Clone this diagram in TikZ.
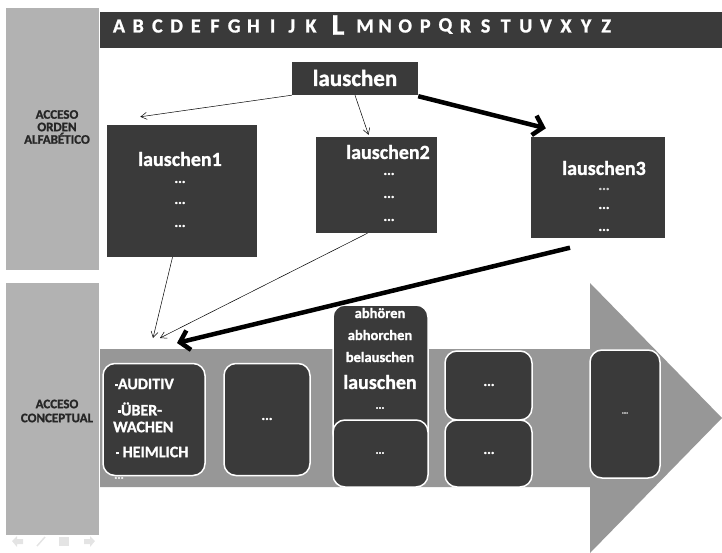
\documentclass[tikz,border=0pt]{standalone}
\usepackage{fontspec}
\setmainfont{Carlito}[BoldFont={Carlito Bold},BoldFeatures={FakeBold=1.2}]
\usetikzlibrary{arrows.meta}
\definecolor{dark}{HTML}{3A3A3A}
\definecolor{side}{HTML}{B2B2B2}
\definecolor{band}{HTML}{979797}
\definecolor{lbl}{HTML}{262626}
\definecolor{nav}{HTML}{E4E4E4}
\newcommand{\sq}{\rule[0.35ex]{2.8pt}{2.8pt}}
\begin{document}
\begin{tikzpicture}[x=1pt,y=-1pt,font=\bfseries,
  darkbox/.style={fill=dark,draw=none,inner sep=0pt},
  rbox/.style={fill=dark,draw=white,line width=1.5pt,rounded corners=12pt,inner sep=0pt},
  wtxt/.style={text=white,inner sep=0pt,font=\fontsize{#1}{#1}\selectfont\bfseries},
  wtxt/.default=20,
  dots/.style={text=white,inner sep=0pt,font=\fontsize{14}{14}\selectfont\bfseries},
  sidelbl/.style={text=lbl,align=center,inner sep=0pt,font=\fontsize{13}{12.5}\selectfont\bfseries},
  thinarrow/.style={-{Straight Barb[length=6pt,width=7pt]},line width=0.5pt},
  bigarrow/.style={-{Straight Barb[length=9pt,width=20pt]},line width=4.5pt}
]
\useasboundingbox (0,0) rectangle (722,553);
% side columns
\fill[side] (6,8) rectangle (99,270);
\fill[side] (6,283) rectangle (99,535);
\node[sidelbl] (lab1) at (57,127) {ACCESO\\ORDEN\\ALFABÉTICO};
\node[sidelbl,font=\fontsize{13}{14}\selectfont\bfseries] (lab2) at (57,411) {ACCESO\\CONCEPTUAL};
% header bar
\fill[dark] (100,12) rectangle (722,48);
\foreach \ch [count=\i] in {A,B,C,D,E,F,G,H,I,J,K}
  \node[wtxt=20] (h\i) at ({119+(\i-1)*19.2},26) {\ch};
\node[wtxt=30] (hL) at (338,25) {L};
\foreach \ch [count=\i] in {M,N,O,P,Q,R,S,T,U,V,X,Y,Z}
  \node[wtxt=20] (m\i) at ({365+(\i-1)*20.1},26) {\ch};
% top node
\node[darkbox,minimum width=126pt,minimum height=33pt] (top) at (355,78.5) {};
\node[wtxt=23] (toptxt) at (355,78) {lauschen};
% level boxes
\node[darkbox,minimum width=150pt,minimum height=132pt] (l1) at (181.5,191) {};
\node[wtxt=20] (l1t) at (180,159) {lauschen1};
\node[dots] (l1a) at (180,182) {...};
\node[dots] (l1b) at (180,203) {...};
\node[dots] (l1c) at (180,226) {...};
\node[darkbox,minimum width=121pt,minimum height=96pt] (l2) at (376.5,185) {};
\node[wtxt=20] (l2t) at (388,152) {lauschen2};
\node[dots] (l2a) at (389,174) {...};
\node[dots] (l2b) at (389,197) {...};
\node[dots] (l2c) at (389,220) {...};
\node[darkbox,minimum width=134pt,minimum height=101pt] (l3) at (598,188) {};
\node[wtxt=20] (l3t) at (604,168) {lauschen3};
\node[dots,text=white!75!dark] (l3a) at (604,189) {...};
\node[dots] (l3b) at (604,208) {...};
\node[dots] (l3c) at (604,230) {...};
% band arrow
\fill[band] (100,349) -- (590,349) -- (590,283) -- (722,418) -- (590,553) -- (590,487) -- (100,487) -- cycle;
% conceptual boxes
\node[rbox,minimum width=102pt,minimum height=112pt] (b1) at (154,419.5) {};
\node[text=white,anchor=west,inner sep=0pt,font=\fontsize{16}{16}\selectfont\bfseries] (b1a) at (115,384) {\sq AUDITIV};
\node[text=white,anchor=west,inner sep=0pt,font=\fontsize{16}{16}\selectfont\bfseries] (b1b) at (118,409) {\sq ÜBER-};
\node[text=white,anchor=west,inner sep=0pt,font=\fontsize{16}{16}\selectfont\bfseries] (b1c) at (113,427) {WACHEN};
\node[text=white,anchor=west,inner sep=0pt,font=\fontsize{16}{16}\selectfont\bfseries] (b1d) at (116,452) {\sq\ HEIMLICH};
\node[dots,text=white!85!band,anchor=west,font=\fontsize{12}{12}\selectfont\bfseries] (b1e) at (114,478) {...};
\node[rbox,minimum width=86pt,minimum height=112pt] (b2) at (267,419.5) {};
\node[dots] (b2t) at (267,419) {...};
\node[rbox,minimum width=95pt,minimum height=140pt] (b3) at (380.5,375) {};
\node[wtxt=14.5] (b3a) at (380,313) {abhören};
\node[wtxt=14.5] (b3b) at (380,335) {abhorchen};
\node[wtxt=14.5] (b3c) at (380,357) {belauschen};
\node[wtxt=20] (b3d) at (380,382) {lauschen};
\node[dots,font=\fontsize{11}{11}\selectfont\bfseries] (b3e) at (380,408) {...};
\node[rbox,minimum width=95pt,minimum height=67pt] (b4) at (380.5,453.5) {};
\node[dots,font=\fontsize{11}{11}\selectfont\bfseries] (b4t) at (380,453) {...};
\node[rbox,minimum width=87pt,minimum height=69pt] (b5) at (488.5,385.5) {};
\node[dots] (b5t) at (489,385) {...};
\node[rbox,minimum width=87pt,minimum height=67pt] (b6) at (488.5,453.5) {};
\node[dots] (b6t) at (489,453) {...};
\node[rbox,minimum width=70pt,minimum height=128pt] (b7) at (625,414) {};
\node[dots,font=\fontsize{8}{8}\selectfont\bfseries] (b7t) at (625,413) {...};
% connector ends
\coordinate (c1) at (153,338);
\coordinate (c2) at (160,338);
\coordinate (c3) at (177,343);
% connectors
\draw[thinarrow] (top.south west) -- ([shift={(34,-8)}]l1.north west);
\draw[thinarrow] (top.south) -- ([shift={(-8,-2)}]l2.north);
\draw[bigarrow] ([yshift=-1pt]top.south east) -- ([shift={(15,-9)}]l3.north west);
\draw[thinarrow] ([xshift=-9pt]l1.south) -- (c1);
\draw[thinarrow] ([xshift=-9pt]l2.south) -- (c2);
\draw[bigarrow] ([shift={(-28,9)}]l3.south) -- (c3);
% slide navigation icons
\fill[nav] (12,541) -- (17,536) -- (17,539) -- (23,539) -- (23,544) -- (17,544) -- (17,547) -- cycle;
\draw[nav,line width=1.5pt] (37,546) -- (45,537);
\fill[nav] (59,537) rectangle (69,546);
\fill[nav] (95,541) -- (90,536) -- (90,539) -- (84,539) -- (84,544) -- (90,544) -- (90,547) -- cycle;
\end{tikzpicture}
\end{document}
